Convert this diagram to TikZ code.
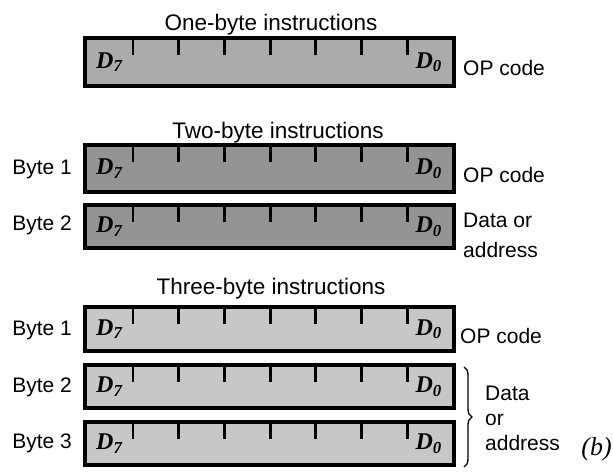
\documentclass[tikz,border=0pt]{standalone}
\usepackage{fontspec}
\setmainfont{Liberation Sans}
\newfontfamily\dfont{Liberation Serif}
\usetikzlibrary{decorations.pathreplacing}
\newcommand\instrbar[4]{%
  \node[bar, fill=#4, minimum height={#3-#2}] (#1) at (269.5,{(#2+#3)/2}) {};
  \foreach \k in {0,...,6}
    \draw[tickmark] ([xshift={48+45.7*\k}]#1.north west) -- ++(0,17);
  \node[dlbl, anchor=base west] (#1-d7) at ([xshift=11,yshift=-6]#1.west) {D\textsubscript{7}};
  \node[dlbl, anchor=base east] (#1-d0) at ([xshift=-12,yshift=-6]#1.east) {D\textsubscript{0}};
}
\begin{document}
\begin{tikzpicture}[x=1pt,y=-1pt,
  lbl/.style={font=\fontsize{21}{25}\selectfont, inner sep=0pt},
  ttl/.style={font=\fontsize{22.5}{26}\selectfont, inner sep=0pt},
  bar/.style={draw, line width=3.2pt, minimum width=369pt, inner sep=0pt, outer sep=0pt},
  tickmark/.style={line width=2.8pt},
  dlbl/.style={font=\dfont\bfseries\itshape\fontsize{24}{24}\selectfont, inner sep=0pt},
  ]
\useasboundingbox (0,0) rectangle (613,475);

% One-byte
\node[ttl, anchor=base] (t1) at (271,30) {One-byte instructions};
\instrbar{a}{38}{86}{black!33}
\node[lbl, anchor=base west] (a-op) at (463,75) {OP code};

% Two-byte
\node[ttl, anchor=base] (t2) at (278,138) {Two-byte instructions};
\instrbar{b1}{145}{192}{black!42}
\instrbar{b2}{205}{248}{black!42}
\node[lbl, anchor=base east] (b1-l) at (72,174) {Byte 1};
\node[lbl, anchor=base east] (b2-l) at (72,230) {Byte 2};
\node[lbl, anchor=base west] (b1-op) at (463,182) {OP code};
\node[lbl, anchor=base west] (b2-da) at (463,227) {Data or};
\node[lbl, anchor=base west] (b2-ad) at (463,257) {address};

% Three-byte
\node[ttl, anchor=base] (t3) at (271,294) {Three-byte instructions};
\instrbar{c1}{307}{351}{black!22}
\instrbar{c2}{365}{408}{black!22}
\instrbar{c3}{422}{465}{black!22}
\node[lbl, anchor=base east] (c1-l) at (72,335) {Byte 1};
\node[lbl, anchor=base east] (c2-l) at (72,392) {Byte 2};
\node[lbl, anchor=base east] (c3-l) at (72,448) {Byte 3};
\node[lbl, anchor=base west] (c1-op) at (460,343) {OP code};
\coordinate (brtop) at (464,367);
\coordinate (brbot) at (464,467);
\draw[line width=1.3pt, decorate, decoration={brace, amplitude=8pt}] (brtop) -- (brbot);
\node[lbl, anchor=base west] (c-da) at (485,400) {Data};
\node[lbl, anchor=base west] (c-or) at (485,425) {or};
\node[lbl, anchor=base west] (c-ad) at (485,450) {address};
\node[inner sep=0pt, anchor=base east, font=\dfont\itshape\fontsize{26}{26}\selectfont] (blabel) at (612,455) {(b)};
\end{tikzpicture}
\end{document}
